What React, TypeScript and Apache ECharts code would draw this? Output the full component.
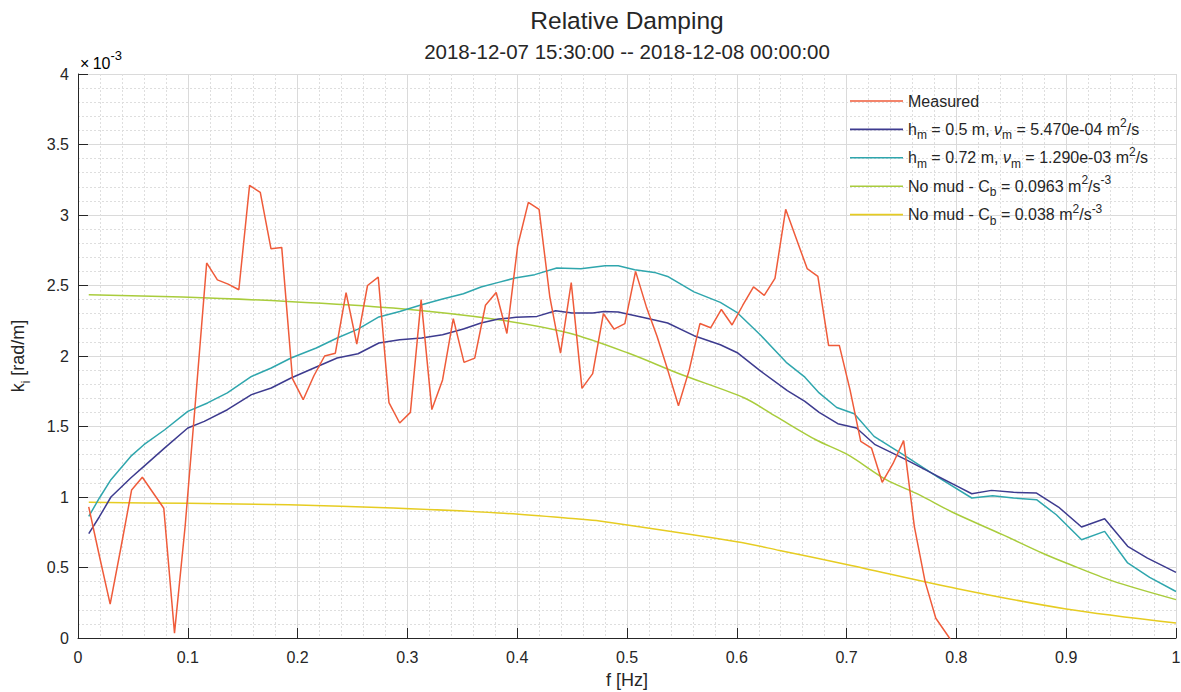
import React, { useEffect, useRef } from "react";
import * as echarts from "echarts";

// Spectral resolution of the measured damping estimate (Hz)
const DF = 1 / 102.4;

// Measured k_i, in units of 1e-3 rad/m, at f = k * DF (k = 1, 2, ...)
const measured = [
  0.93, 0.58, 0.24, 0.64, 1.05, 1.14, 1.03, 0.92, 0.035, 0.8,
  1.72, 2.66, 2.54, 2.51, 2.47, 3.21, 3.16, 2.76, 2.77, 1.84,
  1.69, 1.86, 2.0, 2.02, 2.45, 2.085, 2.5, 2.56, 1.67, 1.525,
  1.6, 2.4, 1.62, 1.83, 2.265, 1.955, 1.985, 2.36, 2.45, 2.16,
  2.78, 3.09, 3.04, 2.42, 2.02, 2.52, 1.77, 1.875, 2.3, 2.19,
  2.23, 2.6, 2.35, 2.14, 1.9, 1.647, 1.9, 2.23, 2.2, 2.33,
  2.22, 2.36, 2.49, 2.43, 2.55, 3.04, 2.83, 2.62, 2.565, 2.075,
  2.075, 1.76, 1.394, 1.347, 1.104, 1.236, 1.4, 0.79, 0.4, 0.14,
  0.03, -0.08,
];

// Mud model, h_m = 0.5 m: [f (Hz), k_i (1e-3 rad/m)]
const mudThin: [number, number][] = [
  [0.0098, 0.74], [0.0195, 0.86], [0.03, 1.0], [0.048, 1.135], [0.06, 1.217],
  [0.079, 1.348], [0.1, 1.489], [0.115, 1.536], [0.136, 1.619], [0.158, 1.726],
  [0.176, 1.773], [0.194, 1.844], [0.217, 1.922], [0.236, 1.986], [0.255, 2.016],
  [0.274, 2.092], [0.293, 2.116], [0.313, 2.128], [0.332, 2.151], [0.351, 2.191],
  [0.367, 2.234], [0.383, 2.262], [0.399, 2.274], [0.418, 2.281], [0.435, 2.321],
  [0.45, 2.305], [0.469, 2.305], [0.479, 2.316], [0.492, 2.312], [0.517, 2.27],
  [0.537, 2.234], [0.561, 2.144], [0.585, 2.08], [0.601, 2.021], [0.62, 1.903],
  [0.646, 1.754], [0.662, 1.678], [0.675, 1.6], [0.692, 1.52], [0.709, 1.489],
  [0.726, 1.371], [0.754, 1.265], [0.782, 1.151], [0.801, 1.075], [0.814, 1.023],
  [0.832, 1.047], [0.852, 1.033], [0.873, 1.028], [0.893, 0.929], [0.914, 0.787],
  [0.935, 0.846], [0.956, 0.65], [0.974, 0.567], [1.0, 0.465],
];

// Mud model, h_m = 0.72 m
const mudThick: [number, number][] = [
  [0.0098, 0.862], [0.0195, 0.993], [0.03, 1.123], [0.048, 1.288], [0.06, 1.371],
  [0.079, 1.477], [0.1, 1.607], [0.118, 1.667], [0.136, 1.738], [0.158, 1.855],
  [0.176, 1.915], [0.194, 1.986], [0.217, 2.057], [0.236, 2.128], [0.255, 2.191],
  [0.274, 2.277], [0.293, 2.316], [0.313, 2.364], [0.332, 2.404], [0.351, 2.442],
  [0.367, 2.489], [0.383, 2.522], [0.398, 2.553], [0.416, 2.577], [0.436, 2.624],
  [0.458, 2.619], [0.48, 2.64], [0.492, 2.64], [0.507, 2.612], [0.525, 2.593],
  [0.537, 2.564], [0.561, 2.455], [0.585, 2.38], [0.6, 2.31], [0.622, 2.145],
  [0.645, 1.955], [0.662, 1.85], [0.675, 1.738], [0.691, 1.635], [0.707, 1.59],
  [0.725, 1.43], [0.754, 1.288], [0.782, 1.146], [0.814, 0.993], [0.833, 1.009],
  [0.852, 0.993], [0.873, 0.981], [0.891, 0.874], [0.914, 0.697], [0.935, 0.756],
  [0.956, 0.532], [0.976, 0.43], [1.0, 0.33],
];

// Bottom friction only, C_b = 0.0963
const noMudHigh: [number, number][] = [
  [0.0098, 2.435], [0.095, 2.418], [0.191, 2.387], [0.287, 2.34], [0.383, 2.257],
  [0.447, 2.163], [0.501, 2.021], [0.55, 1.867], [0.607, 1.702], [0.636, 1.57],
  [0.672, 1.406], [0.701, 1.3], [0.736, 1.123], [0.765, 1.02], [0.797, 0.89],
  [0.842, 0.733], [0.878, 0.603], [0.9, 0.532], [0.942, 0.405], [1.0, 0.272],
];

// Bottom friction only, C_b = 0.038
const noMudLow: [number, number][] = [
  [0.0098, 0.962], [0.1, 0.955], [0.192, 0.945], [0.287, 0.922], [0.383, 0.887],
  [0.456, 0.844], [0.475, 0.83], [0.6, 0.683], [0.639, 0.621], [0.701, 0.52],
  [0.801, 0.35], [0.9, 0.206], [1.0, 0.106],
];

const seriesNames = [
  "Measured",
  "h_m = 0.5 m, nu_m = 5.470e-04 m^2/s",
  "h_m = 0.72 m, nu_m = 1.290e-03 m^2/s",
  "No mud - C_b = 0.0963 m^2/s^-3",
  "No mud - C_b = 0.038 m^2/s^-3",
];

const legendRich: Record<string, string> = {
  [seriesNames[0]]: "{n|Measured}",
  [seriesNames[1]]: "{n|h}{sub|m}{n| = 0.5 m, }{it|ν}{sub|m}{n| = 5.470e-04 m}{sup|2}{n|/s}",
  [seriesNames[2]]: "{n|h}{sub|m}{n| = 0.72 m, }{it|ν}{sub|m}{n| = 1.290e-03 m}{sup|2}{n|/s}",
  [seriesNames[3]]: "{n|No mud - C}{sub|b}{n| = 0.0963 m}{sup|2}{n|/s}{sup|-3}",
  [seriesNames[4]]: "{n|No mud - C}{sub|b}{n| = 0.038 m}{sup|2}{n|/s}{sup|-3}",
};

const colors = ["#ef5b3a", "#3d3b8f", "#2fa6ad", "#a9cc3c", "#e6cc22"];

const FONT = '"Liberation Sans", Arial, Helvetica, sans-serif';
const INK = "#262626";

export default function App() {
  const ref = useRef<HTMLDivElement>(null);

  useEffect(() => {
    if (!ref.current) return;
    const chart = echarts.init(ref.current, undefined, { renderer: "svg" });

    const measuredPts = measured.map((v, i) => [(i + 1) * DF, v]);
    const datasets = [measuredPts, mudThin, mudThick, noMudHigh, noMudLow];

    const legendTextRich = {
      n: { fontSize: 16, lineHeight: 24, color: INK, fontFamily: FONT, verticalAlign: "middle" },
      it: { fontSize: 16, lineHeight: 24, color: INK, fontFamily: FONT, fontStyle: "italic", verticalAlign: "middle" },
      sub: { fontSize: 12, lineHeight: 24, color: INK, fontFamily: FONT, verticalAlign: "bottom" },
      sup: { fontSize: 12, lineHeight: 24, color: INK, fontFamily: FONT, verticalAlign: "top" },
    };

    // one legend block per entry so the rows sit on an even pitch
    const legends = seriesNames.map((name, i) => ({
      orient: "vertical",
      left: 850,
      top: 89 + i * 28.4 + (i === 0 ? 4 : 0),
      padding: 0,
      itemWidth: 53,
      itemHeight: 1.6,
      icon: "rect",
      data: [name],
      formatter: (n: string) => legendRich[n] || n,
      textStyle: { color: INK, fontSize: 16, fontFamily: FONT, rich: legendTextRich },
    }));

    chart.setOption({
      animation: false,
      backgroundColor: "#ffffff",
      textStyle: { fontFamily: FONT, color: INK },
      color: colors,
      title: {
        text: "Relative Damping",
        subtext: "2018-12-07 15:30:00 -- 2018-12-08 00:00:00",
        left: 627,
        textAlign: "center",
        top: 6,
        padding: 0,
        itemGap: 4,
        textStyle: { fontSize: 24.5, fontWeight: "normal", color: INK, fontFamily: FONT, lineHeight: 28 },
        subtextStyle: { fontSize: 20.5, color: INK, fontFamily: FONT, lineHeight: 26 },
      },
      grid: {
        left: 78,
        top: 74,
        width: 1098,
        height: 564,
        containLabel: false,
        outerBoundsMode: "none",
      },
      legend: legends,
      xAxis: {
        type: "value",
        min: 0,
        max: 1,
        interval: 0.1,
        name: "f [Hz]",
        nameLocation: "middle",
        nameGap: 33,
        nameTextStyle: { fontSize: 18, color: INK, fontFamily: FONT },
        axisLine: { show: true, onZero: false, lineStyle: { color: INK, width: 1 } },
        axisTick: { show: true, inside: true, length: 10, lineStyle: { color: INK } },
        axisLabel: { fontSize: 16, color: INK, margin: 11, fontFamily: FONT },
        splitLine: { show: true, lineStyle: { color: "#dadada", width: 1 } },
        minorTick: { show: false, splitNumber: 5 },
        minorSplitLine: { show: true, lineStyle: { color: "#dedede", width: 1, type: [2, 2] } },
      },
      yAxis: {
        type: "value",
        min: 0,
        max: 4,
        interval: 0.5,
        name: "{n|k}{sub|i}{n| [rad/m]}",
        nameLocation: "middle",
        nameRotate: 90,
        nameGap: 46,
        nameTextStyle: {
          fontSize: 18,
          color: INK,
          fontFamily: FONT,
          rich: {
            n: { fontSize: 18, lineHeight: 28, color: INK, fontFamily: FONT, verticalAlign: "middle" },
            sub: { fontSize: 12, lineHeight: 28, color: INK, fontFamily: FONT, verticalAlign: "bottom" },
          },
        },
        axisLine: { show: true, onZero: false, lineStyle: { color: INK, width: 1 } },
        axisTick: { show: true, inside: true, length: 10, lineStyle: { color: INK } },
        axisLabel: { fontSize: 16, color: INK, margin: 9, fontFamily: FONT },
        splitLine: { show: true, lineStyle: { color: "#dadada", width: 1 } },
        minorTick: { show: false, splitNumber: 5 },
        minorSplitLine: { show: true, lineStyle: { color: "#dedede", width: 1, type: [2, 2] } },
      },
      graphic: [
        {
          type: "text",
          left: 80,
          top: 49,
          style: {
            text: "{a|×}{s| }{a|10}{b|-3}",
            rich: {
              a: { fontSize: 16, lineHeight: 22, color: INK, fontFamily: FONT, verticalAlign: "bottom" },
              s: { fontSize: 12, lineHeight: 22, color: INK, fontFamily: FONT, verticalAlign: "bottom" },
              b: { fontSize: 13, lineHeight: 22, color: INK, fontFamily: FONT, verticalAlign: "top" },
            },
          },
        },
      ],
      series: datasets.map((d, i) => ({
        name: seriesNames[i],
        type: "line",
        data: d,
        symbol: "none",
        smooth: i >= 3 ? 0.3 : false,
        clip: true,
        lineStyle: { width: 1.5, color: colors[i] },
        itemStyle: { color: colors[i] },
        z: 10 - i,
      })),
    });

    return () => chart.dispose();
  }, []);

  return (
    <div
      ref={ref}
      style={{ position: "fixed", left: 0, top: 0, width: 1181, height: 692, background: "#fff" }}
    />
  );
}
